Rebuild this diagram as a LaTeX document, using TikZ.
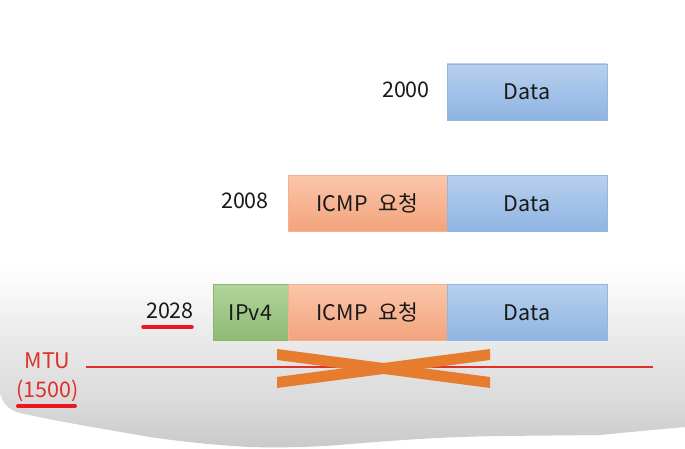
\documentclass[tikz,border=0pt]{standalone}
\usepackage{fontspec}
\setmainfont{Noto Sans CJK KR}
\definecolor{txt}{RGB}{25,25,25}
\definecolor{mtured}{RGB}{222,48,40}
\definecolor{ulred}{RGB}{235,22,30}
\definecolor{xorange}{RGB}{230,124,46}
\definecolor{dataT}{RGB}{184,208,238}
\definecolor{dataB}{RGB}{142,180,226}
\definecolor{dataD}{RGB}{150,182,222}
\definecolor{icmpT}{RGB}{251,198,170}
\definecolor{icmpB}{RGB}{242,163,124}
\definecolor{icmpD}{RGB}{244,178,140}
\definecolor{ipT}{RGB}{178,212,156}
\definecolor{ipB}{RGB}{142,186,114}
\definecolor{ipD}{RGB}{140,180,112}
\pgfdeclareverticalshading{bgshade}{100bp}{color(0bp)=(black!21); color(25bp)=(black!21); color(38.5bp)=(black!14); color(58bp)=(black!7); color(69bp)=(black!2); color(75bp)=(white); color(100bp)=(white)}
\begin{document}
\begin{tikzpicture}[x=1pt,y=-1pt,
  lbl/.style={inner sep=0pt, text=txt, font=\fontsize{21.5}{26}\selectfont},
  pbox/.style={draw, line width=0.8pt, minimum height=56pt, inner sep=0pt, text=txt, font=\fontsize{21.5}{26}\selectfont},
  databox/.style={pbox, draw=dataD, top color=dataT, bottom color=dataB, minimum width=160pt},
  icmpbox/.style={pbox, draw=icmpD, top color=icmpT, bottom color=icmpB, minimum width=159pt},
  ipbox/.style={pbox, draw=ipD, top color=ipT, bottom color=ipB, minimum width=75pt},
  mtutext/.style={inner sep=0pt, text=mtured, font=\fontsize{21.5}{26}\selectfont},
  uline/.style={draw=ulred, line cap=round},
  xbar/.style={fill=xorange}
]
\useasboundingbox (0,0) rectangle (685,449);
\fill[white] (0,0) rectangle (685,449);
% gray background shadow
\shade[shading=bgshade] (0,262) -- (685,262) -- (685,427)
  .. controls (640,431) and (610,434) .. (600,435)
  -- (500,436) .. controls (440,437) and (400,440) .. (350,444)
  .. controls (320,447) and (280,448) .. (250,447)
  .. controls (210,445) and (170,440) .. (150,437)
  .. controls (110,430) and (60,422) .. (20,413)
  .. controls (8,410) and (2,402) .. (0,393) -- cycle;

% row 1
\node[databox] (d1) at (527,92) {Data};
\node[lbl, anchor=east] (n2000) at (430,90) {2000};
% row 2
\node[icmpbox] (i2) at (367.5,203.5) {ICMP\hspace{11pt}요청};
\node[databox] (d2) at (527,203.5) {Data};
\node[lbl, anchor=east] (n2008) at (269,201) {2008};
% row 3
\node[ipbox] (p3) at (250.5,312.5) {IPv4};
\node[icmpbox] (i3) at (367.5,312.5) {ICMP\hspace{11pt}요청};
\node[databox] (d3) at (527,312.5) {Data};
\node[lbl, anchor=east] (n2028) at (194,311) {2028};
\draw[uline, line width=3.5pt] (143,327) -- (192,327);

% MTU line
\coordinate (mtuL) at (86,367);
\coordinate (mtuR) at (653,367);
\draw[mtured, line width=2.8pt] (mtuL) -- (mtuR);
\node[mtutext] (mtu) at (47.5,361) {MTU};
\node[mtutext] (m1500) at (47.5,391) {(1500)};
\draw[uline, line width=4pt] (18,406) -- (75,406);

% orange X
\fill[xbar] (277,349) -- (277,360) -- (490,388) -- (490,377) -- cycle;
\fill[xbar] (277,377) -- (277,388) -- (490,360) -- (490,349) -- cycle;
\end{tikzpicture}
\end{document}
